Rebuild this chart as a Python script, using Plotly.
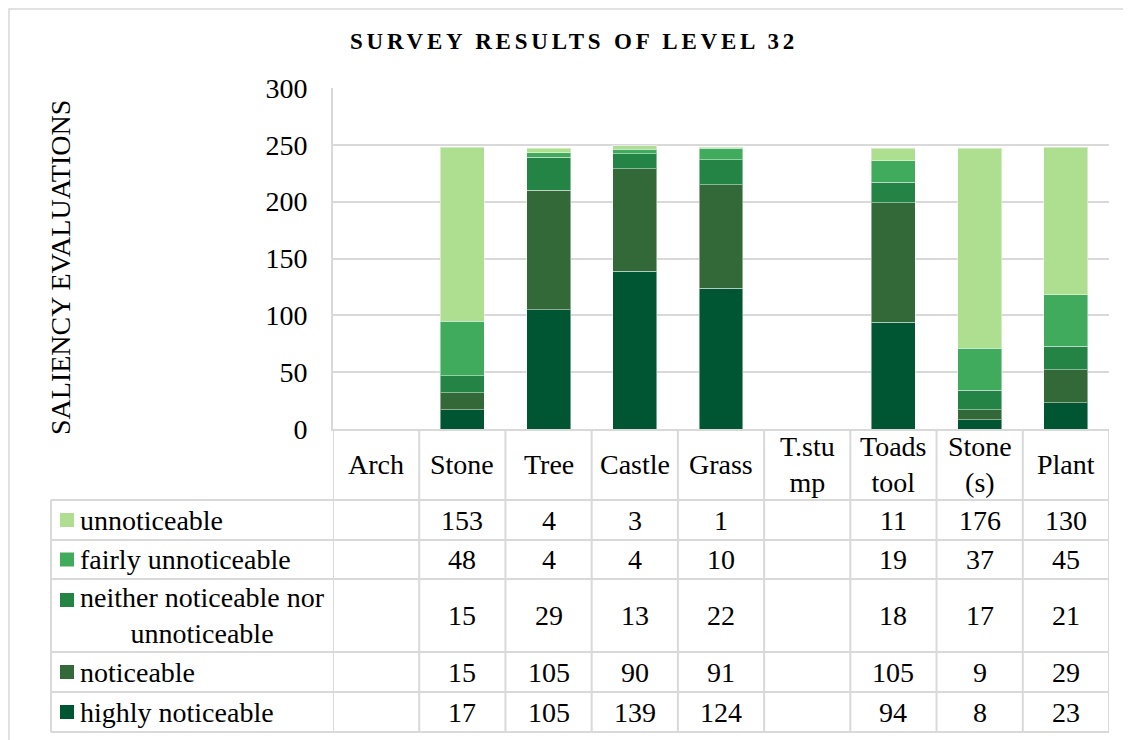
import plotly.graph_objects as go

# ---------------- data ----------------
categories = ["Arch", "Stone", "Tree", "Castle", "Grass", "T.stump", "Toadstool", "Stone (s)", "Plant"]
category_labels = ["Arch", "Stone", "Tree", "Castle", "Grass", "T.stu<br>mp", "Toads<br>tool", "Stone<br>(s)", "Plant"]

unnoticeable = [None, 153, 4, 3, 1, None, 11, 176, 130]
fairly_unnoticeable = [None, 48, 4, 4, 10, None, 19, 37, 45]
neither_noticeable = [None, 15, 29, 13, 22, None, 18, 17, 21]
noticeable = [None, 15, 105, 90, 91, None, 105, 9, 29]
highly_noticeable = [None, 17, 105, 139, 124, None, 94, 8, 23]

# table rows (top to bottom) and legend labels
table_rows = [
    ("unnoticeable", unnoticeable, "#AEDE90"),
    ("fairly unnoticeable", fairly_unnoticeable, "#41AB5D"),
    ("neither noticeable nor<br>unnoticeable", neither_noticeable, "#238446"),
    ("noticeable", noticeable, "#336938"),
    ("highly noticeable", highly_noticeable, "#005633"),
]
trace_names = ["unnoticeable", "fairly unnoticeable", "neither noticeable nor unnoticeable",
               "noticeable", "highly noticeable"]

title_text = "SURVEY RESULTS OF LEVEL 32"
y_title = "SALIENCY EVALUATIONS"
y_ticks = [0, 50, 100, 150, 200, 250, 300]

# ---------------- layout geometry (screen pixels of the reference) ----------------
OFF = 8                                   # page body margin
W, H = 1131 - OFF, 740 - OFF
PL, PR, PT, PB = 333, 1109, 88, 429       # plot area in screen px
PW, PH = PR - PL, PB - PT
FONT = "Liberation Serif"
GRID = "#d9d9d9"
TEXT = "#000000"
FS = 28


def xp(x):  # screen pixel -> paper x
    return (x - PL) / PW


def yp(y):  # screen pixel -> paper y
    return (PB - y) / PH


header_top, header_bottom = PB, 500
row_edges = [500, 540, 579, 652, 692, 732]
legend_left = 51

fig = go.Figure()

# stacked bars, bottom to top
for (label, vals, color), name in reversed(list(zip(table_rows, trace_names))):
    fig.add_trace(go.Bar(
        x=categories, y=vals, name=name,
        marker=dict(color=color, line=dict(color="rgba(255,255,255,0.45)", width=1)),
        showlegend=False,
    ))

shapes = []
annotations = []

# outer chart border (only top/left visible; drawn at the figure's top-left edge)
shapes.append(dict(type="rect", xref="paper", yref="paper",
                   x0=xp(OFF + 1), x1=xp(1145), y0=yp(760), y1=yp(OFF + 1),
                   line=dict(color=GRID, width=1.5), fillcolor="rgba(0,0,0,0)", layer="below"))

# table horizontal lines
for y in row_edges:
    shapes.append(dict(type="line", xref="paper", yref="paper",
                       x0=xp(legend_left), x1=1, y0=yp(y), y1=yp(y),
                       line=dict(color=GRID, width=2)))
# table vertical lines at category boundaries
for k in range(len(categories) + 1):
    shapes.append(dict(type="line", xref="x", yref="paper",
                       x0=k - 0.5, x1=k - 0.5, y0=yp(header_top), y1=yp(row_edges[-1]),
                       line=dict(color=GRID, width=2)))
# legend column left edge
shapes.append(dict(type="line", xref="paper", yref="paper",
                   x0=xp(legend_left), x1=xp(legend_left), y0=yp(row_edges[0]), y1=yp(row_edges[-1]),
                   line=dict(color=GRID, width=2)))

# header row: category labels
for cat, lab in zip(categories, category_labels):
    annotations.append(dict(xref="x", yref="paper", x=cat, y=yp((header_top + header_bottom) / 2),
                            text=lab, showarrow=False, xanchor="center", yanchor="middle",
                            font=dict(family=FONT, size=FS, color=TEXT)))

# table body
for r, (label, vals, color) in enumerate(table_rows):
    y0, y1 = row_edges[r], row_edges[r + 1]
    yc = (y0 + y1) / 2
    two_line = "<br>" in label
    line_c = y0 + 21 if two_line else yc
    # legend swatch
    shapes.append(dict(type="rect", xref="paper", yref="paper",
                       x0=xp(60), x1=xp(74), y0=yp(line_c + 7), y1=yp(line_c - 7),
                       fillcolor=color, line=dict(width=0)))
    annotations.append(dict(xref="paper", yref="paper", x=xp(78), y=yp(yc),
                            text=label, showarrow=False, xanchor="left", yanchor="middle",
                            align="center", font=dict(family=FONT, size=FS, color=TEXT)))
    for cat, v in zip(categories, vals):
        if v is None:
            continue
        annotations.append(dict(xref="x", yref="paper", x=cat, y=yp(yc),
                                text=str(v), showarrow=False, xanchor="center", yanchor="middle",
                                font=dict(family=FONT, size=FS, color=TEXT)))

# y-axis title
annotations.append(dict(xref="paper", yref="paper", x=xp(60), y=yp(268),
                        text=y_title, textangle=-90, showarrow=False,
                        xanchor="center", yanchor="middle",
                        font=dict(family=FONT, size=FS, color=TEXT)))

fig.update_layout(
    width=W, height=H,
    margin=dict(l=PL - OFF, r=W - (PR - OFF), t=PT - OFF, b=H - (PB - OFF), pad=0),
    paper_bgcolor="white", plot_bgcolor="white",
    barmode="stack", bargap=0.49,
    title=dict(text='<span style="letter-spacing:3.8px">' + title_text + '</span>',
               xref="container", yref="container",
               x=(574 - OFF) / W, y=1 - (41 - OFF) / H,
               xanchor="center", yanchor="middle",
               font=dict(family=FONT, size=23, color=TEXT, weight="bold")),
    xaxis=dict(range=[-0.5, len(categories) - 0.5], showticklabels=False, ticks="",
               showgrid=False, showline=True, linecolor=GRID, linewidth=2, zeroline=False),
    yaxis=dict(range=[0, 300], tickvals=y_ticks, ticks="", showgrid=True,
               gridcolor=GRID, gridwidth=2, zeroline=False,
               showline=True, linecolor=GRID, linewidth=2,
               ticklabelstandoff=18,
               tickfont=dict(family=FONT, size=FS, color=TEXT)),
    shapes=shapes, annotations=annotations,
)

fig.write_html("out.html")
